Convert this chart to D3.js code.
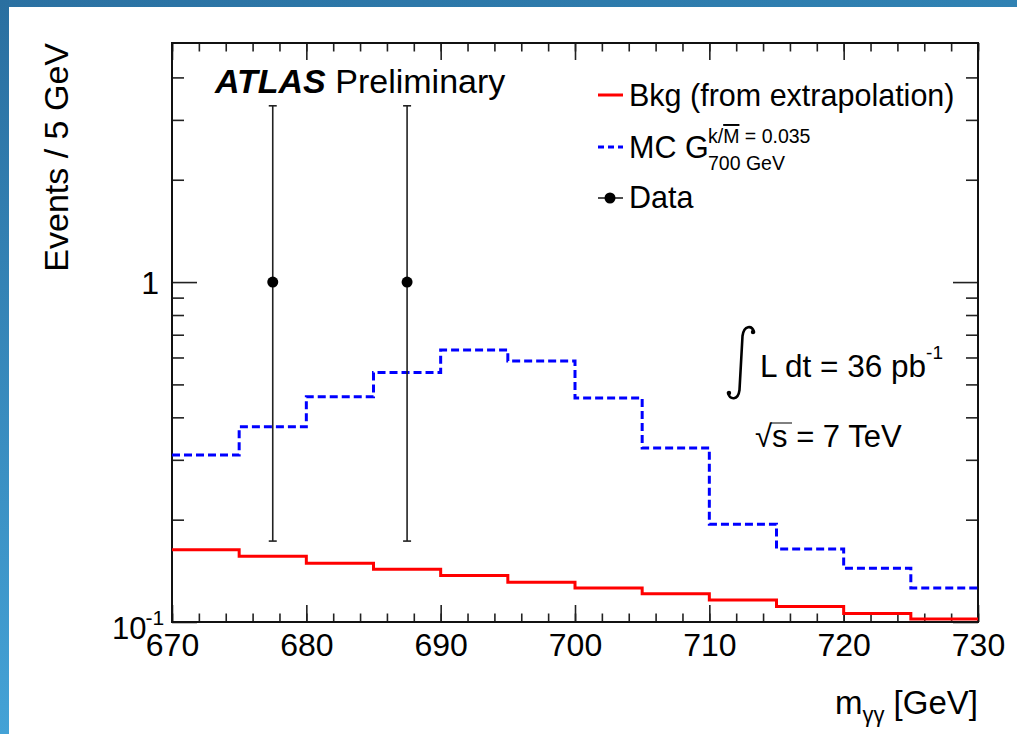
<!DOCTYPE html>
<html>
<head>
<meta charset="utf-8">
<script src="https://cdn.jsdelivr.net/npm/d3@7"></script>
<style>
  body { margin: 0; background: #fff; }
  svg text { font-family: "Liberation Sans", Arial, Helvetica, sans-serif; fill: #000; }
</style>
</head>
<body>
<div id="chart"></div>
<script>
// bin lower edges (5 GeV bins)
const bins = [670, 675, 680, 685, 690, 695, 700, 705, 710, 715, 720, 725];
const binWidth = 5;
// background from extrapolation
const bkgValues = [0.163, 0.156, 0.149, 0.143, 0.137, 0.131, 0.126, 0.121, 0.116, 0.111, 0.106, 0.102];
// MC graviton signal, k/Mbar = 0.035, 700 GeV
const mcValues = [0.310, 0.375, 0.460, 0.542, 0.631, 0.586, 0.456, 0.325, 0.194, 0.164, 0.144, 0.126];
// data points
const dataMass = [677.5, 687.5];
const dataCounts = [1, 1];
const dataErrUp = [2.30, 2.30];
const dataErrDown = [0.827, 0.827];
// axis ticks
const xMajorTicks = [670, 680, 690, 700, 710, 720, 730];
const yMajorTicks = [0.1, 1];
const yMinorTicks = [0.2, 0.3, 0.4, 0.5, 0.6, 0.7, 0.8, 0.9, 2, 3, 4];

const W = 1017, H = 734;
const margin = {top: 43, right: 39, bottom: 112, left: 172};
const width = W - margin.left - margin.right;
const height = H - margin.top - margin.bottom;

const svg = d3.select('#chart').append('svg')
  .attr('width', W)
  .attr('height', H);

// blue slide border
const defs = svg.append('defs');
const gl = defs.append('linearGradient').attr('id', 'leftGrad')
  .attr('x1', 0).attr('y1', 0).attr('x2', 0).attr('y2', 1);
gl.append('stop').attr('offset', '0%').attr('stop-color', '#2a6fa0');
gl.append('stop').attr('offset', '100%').attr('stop-color', '#44a2d6');
const gt = defs.append('linearGradient').attr('id', 'topGrad')
  .attr('x1', 0).attr('y1', 0).attr('x2', 1).attr('y2', 0);
gt.append('stop').attr('offset', '0%').attr('stop-color', '#2b71a2');
gt.append('stop').attr('offset', '100%').attr('stop-color', '#3082b3');
svg.append('rect').attr('x', 0).attr('y', 0).attr('width', W).attr('height', H).attr('fill', '#fff');
svg.append('rect').attr('x', 0).attr('y', 0).attr('width', W).attr('height', 7).attr('fill', 'url(#topGrad)');
svg.append('rect').attr('x', 0).attr('y', 0).attr('width', 9).attr('height', H).attr('fill', 'url(#leftGrad)');

const g = svg.append('g').attr('transform', `translate(${margin.left},${margin.top})`);

// Scales
const x = d3.scaleLinear().domain([670, 730]).range([0, width]);
const y = d3.scaleLog().domain([0.1, 5.05]).range([height, 0]);

const tickColor = '#222';

// x axis: minor + major ticks, bottom and top
const xMinor = x.ticks(30);
function styleAxis(sel) {
  sel.select('.domain').remove();
  sel.selectAll('line').attr('stroke', tickColor).attr('stroke-width', 1.6);
}
g.append('g').attr('transform', `translate(0,${height})`)
  .call(d3.axisBottom(x).tickValues(xMinor).tickSize(-8.5).tickFormat(''))
  .call(styleAxis);
g.append('g').attr('transform', `translate(0,${height})`)
  .call(d3.axisBottom(x).tickValues(xMajorTicks).tickSize(-17).tickPadding(11).tickFormat(d3.format('d')))
  .call(styleAxis)
  .call(s => s.selectAll('text').attr('font-size', 32).attr('font-family', '"Liberation Sans", Arial, sans-serif').attr('fill', '#000'));
g.append('g')
  .call(d3.axisTop(x).tickValues(xMinor).tickSize(-8.5).tickFormat(''))
  .call(styleAxis);
g.append('g')
  .call(d3.axisTop(x).tickValues(xMajorTicks).tickSize(-17).tickFormat(''))
  .call(styleAxis);

// y axis: left and right
g.append('g')
  .call(d3.axisLeft(y).tickValues(yMinorTicks).tickSize(-12).tickFormat(''))
  .call(styleAxis);
g.append('g')
  .call(d3.axisLeft(y).tickValues(yMajorTicks).tickSize(-25).tickFormat(''))
  .call(styleAxis);
g.append('g').attr('transform', `translate(${width},0)`)
  .call(d3.axisRight(y).tickValues(yMinorTicks).tickSize(-12).tickFormat(''))
  .call(styleAxis);
g.append('g').attr('transform', `translate(${width},0)`)
  .call(d3.axisRight(y).tickValues(yMajorTicks).tickSize(-25).tickFormat(''))
  .call(styleAxis);

// y tick labels
g.append('text').attr('x', -13).attr('y', y(1) + 12)
  .attr('text-anchor', 'end').attr('font-size', 32).text('1');
const lab01 = g.append('text').attr('x', -60).attr('y', y(0.1) + 17)
  .attr('font-size', 31);
lab01.append('tspan').text('10');
lab01.append('tspan').attr('font-size', 21).attr('dy', -14).attr('dx', -1).text('-1');

// frame
g.append('rect').attr('x', 0).attr('y', 0).attr('width', width).attr('height', height)
  .attr('fill', 'none').attr('stroke', '#111').attr('stroke-width', 2);

// histograms as step lines
const stepLine = d3.line()
  .x(d => x(d[0]))
  .y(d => y(d[1]))
  .curve(d3.curveStepAfter);
function stepPoints(vals) {
  const pts = bins.map((b, i) => [b, vals[i]]);
  pts.push([bins[bins.length - 1] + binWidth, vals[vals.length - 1]]);
  return pts;
}

g.append('path').datum(stepPoints(bkgValues))
  .attr('d', stepLine)
  .attr('fill', 'none').attr('stroke', '#ff0000').attr('stroke-width', 3);

g.append('path').datum(stepPoints(mcValues))
  .attr('d', stepLine)
  .attr('fill', 'none').attr('stroke', '#0000ff').attr('stroke-width', 3)
  .attr('stroke-dasharray', '8,4');

// data points with errors
const data = dataMass.map((m, i) => ({m: m, v: dataCounts[i], up: dataErrUp[i], dn: dataErrDown[i]}));
const pts = g.selectAll('g.pt').data(data).enter().append('g').attr('class', 'pt');
pts.append('line')
  .attr('x1', d => x(d.m)).attr('x2', d => x(d.m))
  .attr('y1', d => y(d.v + d.up)).attr('y2', d => y(d.v - d.dn))
  .attr('stroke', '#222').attr('stroke-width', 1.6);
pts.append('line')
  .attr('x1', d => x(d.m) - 4).attr('x2', d => x(d.m) + 4)
  .attr('y1', d => y(d.v + d.up)).attr('y2', d => y(d.v + d.up))
  .attr('stroke', '#222').attr('stroke-width', 1.6);
pts.append('line')
  .attr('x1', d => x(d.m) - 4).attr('x2', d => x(d.m) + 4)
  .attr('y1', d => y(d.v - d.dn)).attr('y2', d => y(d.v - d.dn))
  .attr('stroke', '#222').attr('stroke-width', 1.6);
pts.append('circle')
  .attr('cx', d => x(d.m)).attr('cy', d => y(d.v)).attr('r', 5.5)
  .attr('fill', '#000');

// axis titles
svg.append('text')
  .attr('transform', `translate(68,${margin.top}) rotate(-90)`)
  .attr('text-anchor', 'end').attr('font-size', 34)
  .text('Events / 5 GeV');

const xt = svg.append('text').attr('x', margin.left + width).attr('y', 714)
  .attr('text-anchor', 'end').attr('font-size', 33);
xt.append('tspan').text('m');
xt.append('tspan').attr('font-size', 22).attr('dy', 8).text('γγ');
xt.append('tspan').attr('dy', -8).text(' [GeV]');

// ATLAS label
const atl = svg.append('text').attr('x', 215).attr('y', 93).attr('font-size', 34);
atl.append('tspan').attr('font-weight', 'bold').attr('font-style', 'italic').text('ATLAS');
atl.append('tspan').text(' Preliminary');

// legend
const leg = svg.append('g');
leg.append('line').attr('x1', 598).attr('x2', 623).attr('y1', 95).attr('y2', 95)
  .attr('stroke', '#ff0000').attr('stroke-width', 3);
leg.append('text').attr('x', 629).attr('y', 106).attr('font-size', 30.5).text('Bkg (from extrapolation)');

leg.append('line').attr('x1', 598).attr('x2', 623).attr('y1', 147).attr('y2', 147)
  .attr('stroke', '#0000ff').attr('stroke-width', 3).attr('stroke-dasharray', '6,4');
leg.append('text').attr('x', 629).attr('y', 158).attr('font-size', 30.5).text('MC G');
const sup = leg.append('text').attr('x', 708).attr('y', 143).attr('font-size', 19.5);
sup.append('tspan').text('k/');
sup.append('tspan').style('text-decoration', 'overline').text('M');
sup.append('tspan').text(' = 0.035');
leg.append('text').attr('x', 708).attr('y', 170).attr('font-size', 19.5).text('700 GeV');

leg.append('line').attr('x1', 598).attr('x2', 623).attr('y1', 198).attr('y2', 198)
  .attr('stroke', '#222').attr('stroke-width', 1.6);
leg.append('circle').attr('cx', 610).attr('cy', 198).attr('r', 5.5).attr('fill', '#000');
leg.append('text').attr('x', 629).attr('y', 208).attr('font-size', 30.5).text('Data');

// luminosity and energy: thin integral sign drawn as a stroke
svg.append('path')
  .attr('d', 'M 728 393 C 730 400, 738 401, 739.5 390 L 742.5 336 C 744 325, 752 325, 754 332')
  .attr('fill', 'none').attr('stroke', '#000').attr('stroke-width', 2.6).attr('stroke-linecap', 'round');
svg.append('circle').attr('cx', 729).attr('cy', 393).attr('r', 2.2).attr('fill', '#000');
svg.append('circle').attr('cx', 753).attr('cy', 332).attr('r', 2.2).attr('fill', '#000');

const lum = svg.append('text').attr('x', 760).attr('y', 377).attr('font-size', 31.5);
lum.append('tspan').text('L dt = 36 pb');
lum.append('tspan').attr('font-size', 19).attr('dy', -18).text('-1');

const rs = svg.append('text').attr('x', 755).attr('y', 447).attr('font-size', 31);
rs.append('tspan').text('√');
rs.append('tspan').text('s = 7 TeV');
svg.append('line').attr('x1', 771).attr('x2', 792).attr('y1', 423).attr('y2', 423)
  .attr('stroke', '#000').attr('stroke-width', 1);
</script>
</body>
</html>
